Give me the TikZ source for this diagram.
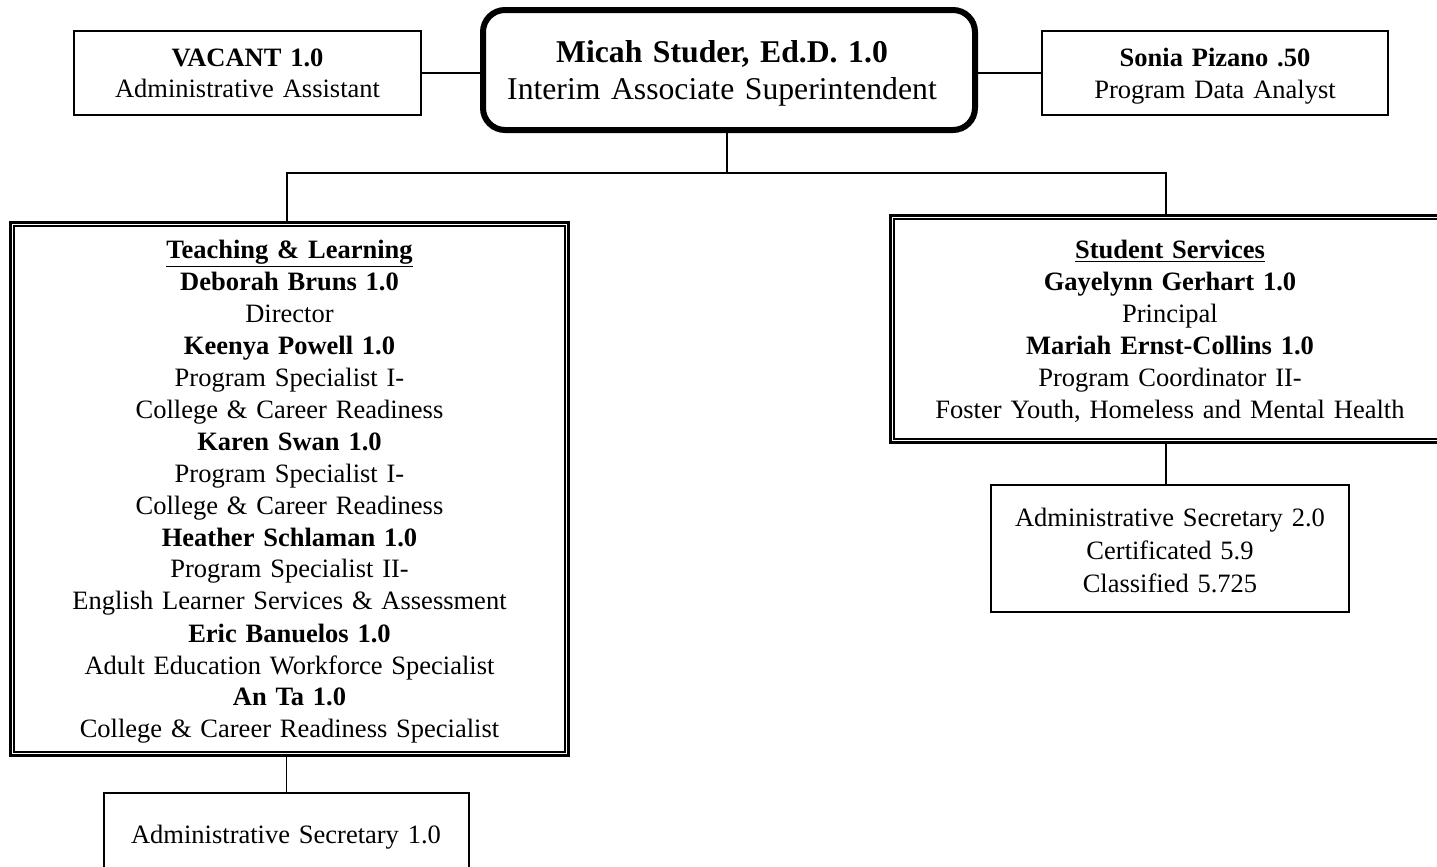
\documentclass[tikz,border=0pt]{standalone}
\usepackage{fontspec}
\setmainfont{Liberation Serif}
\usetikzlibrary{fit}
\begin{document}
\begin{tikzpicture}[x=0.5pt,y=-0.5pt,
  plainbox/.style={draw, line width=1pt, inner sep=0pt},
  secbox/.style={draw, line width=1.25pt, inner sep=0pt},
  chiefbox/.style={draw, line width=3pt, rounded corners=11pt, inner sep=0pt},
  unitbox/.style={draw, line width=1.5pt, inner sep=0pt},
  unitinner/.style={line width=1pt},
  link/.style={line width=0.8pt},
  bodytext/.style={anchor=base, inner sep=0pt, align=center, text width=#1,
    font=\fontsize{13.25pt}{16pt}\selectfont},
  chieftext/.style={anchor=base, inner sep=0pt, align=center, text width=#1,
    font=\fontsize{15.85pt}{18.5pt}\selectfont}
]
% canvas
\useasboundingbox (0,0) rectangle (1437,867);
\fill[white] (0,0) rectangle (1437,867);
\clip (0,0) rectangle (1437,867);

% top row
\node[chiefbox, fit={(483,10) (975,130)}] (chief) {};
\node[chieftext=250pt] (chiefT) at (722,62)
  {\textbf{Micah Studer, Ed.D. 1.0}\\Interim Associate Superintendent};

\node[plainbox, fit={(74,31) (421,115)}] (vacant) {};
\node[bodytext=170pt] (vacantT) at (247.5,66)
  {\textbf{VACANT 1.0}\\Administrative Assistant};

\node[plainbox, fit={(1042,31) (1388,115)}] (sonia) {};
\node[bodytext=170pt] (soniaT) at (1215,67)
  {\textbf{Sonia Pizano .50}\\Program Data Analyst};

% departments
\node[unitbox, fit={(10.5,222.5) (568.5,755.5)}] (teach) {};
\draw[unitinner] ([shift={(5,5)}]teach.north west) rectangle ([shift={(-5,-5)}]teach.south east);
\node[bodytext=270pt] (teachT) at (289.5,258)
  {\underline{\textbf{Teaching \& Learning}}\\
   \textbf{Deborah Bruns 1.0}\\
   Director\\
   \textbf{Keenya Powell 1.0}\\
   Program Specialist I-\\
   College \& Career Readiness\\
   \textbf{Karen Swan 1.0}\\
   Program Specialist I-\\
   College \& Career Readiness\\
   \textbf{Heather Schlaman 1.0}\\
   Program Specialist II-\\
   English Learner Services \& Assessment\\
   \textbf{Eric Banuelos 1.0}\\
   Adult Education Workforce Specialist\\
   \textbf{An Ta 1.0}\\
   College \& Career Readiness Specialist};

\node[unitbox, fit={(890.5,215.5) (1449.5,442.5)}] (serv) {};
\draw[unitinner] ([shift={(5,5)}]serv.north west) rectangle ([shift={(-5,-5)}]serv.south east);
\node[bodytext=270pt] (servT) at (1170,258)
  {\underline{\textbf{Student Services}}\\
   \textbf{Gayelynn Gerhart 1.0}\\
   Principal\\
   \textbf{Mariah Ernst-Collins 1.0}\\
   Program Coordinator II-\\
   Foster Youth, Homeless and Mental Health};

% support staff
\node[secbox, fit={(104,793) (469,920)}] (lsec) {};
\node[bodytext=170pt] (lsecT) at (286,843) {Administrative Secretary 1.0};

\node[secbox, fit={(991,485) (1349,612)}] (rsec) {};
\node[bodytext=170pt, font=\fontsize{13.25pt}{16.5pt}\selectfont] (rsecT) at (1170,526)
  {Administrative Secretary 2.0\\Certificated 5.9\\Classified 5.725};

% connectors
\coordinate (bl) at (287,173);
\coordinate (br) at (1166,173);
\draw[link] (vacant.east) -- (vacant.east -| chief.west);
\draw[link] (chief.east |- sonia.west) -- (sonia.west);
\draw[link] (727,0 |- chief.south) -- (727,173);
\draw[link] (bl |- teach.north) -- (bl) -- (br) -- (br |- serv.north);
\draw[link] (lsec.north |- teach.south) -- (lsec.north);
\draw[link] (br |- serv.south) -- (br |- rsec.north);
\end{tikzpicture}
\end{document}
